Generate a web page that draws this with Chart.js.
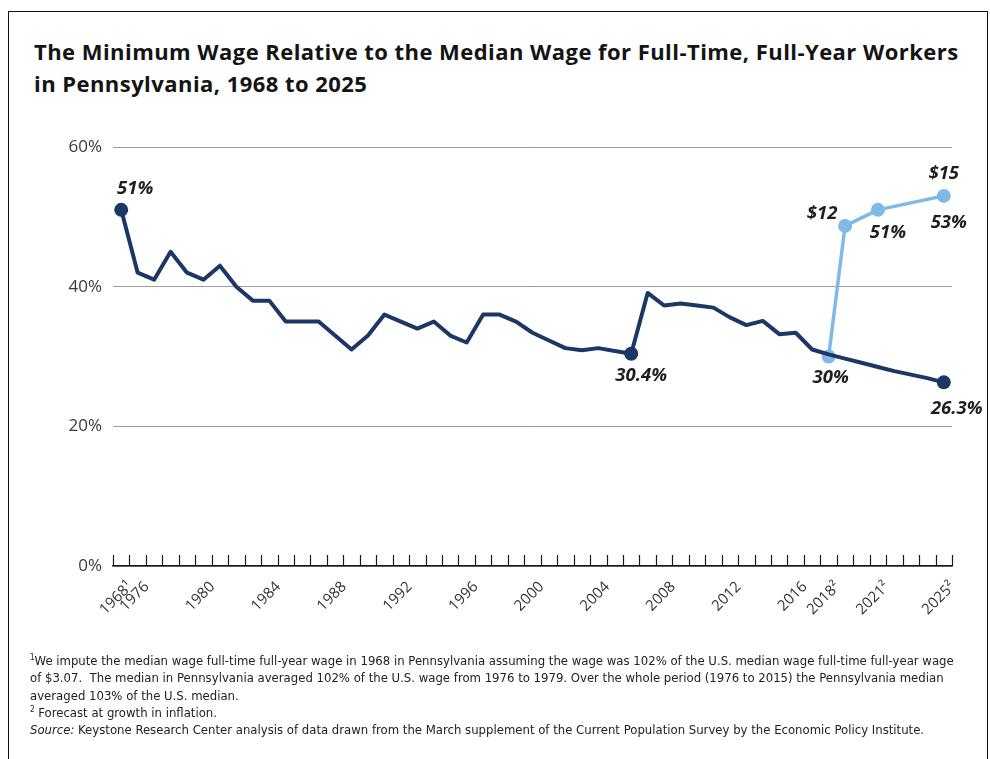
<!DOCTYPE html>
<html>
<head>
<meta charset="utf-8">
<script src="https://cdn.jsdelivr.net/npm/chart.js@4.4.1/dist/chart.umd.min.js"></script>
<style>
  html, body { margin: 0; padding: 0; background: #fff; }
  body { width: 990px; height: 759px; position: relative; overflow: hidden; font-family: "Open Sans", sans-serif; }
  #frame { position: absolute; left: 8px; top: 11px; width: 980px; height: 760px; border: 1.5px solid #111; border-bottom: none; box-sizing: border-box; }
  #title { position: absolute; left: 34px; top: 35px; font-weight: 700; font-size: 22px; letter-spacing: 0.45px; line-height: 32px; color: #141414; white-space: nowrap; }
  #chartWrap { position: absolute; left: 0; top: 0; width: 990px; height: 759px; }
  #notes { position: absolute; left: 30px; top: 652px; font-family: "Liberation Sans Narrow", "Arial Narrow", "DejaVu Sans Condensed", sans-serif; font-size: 13px; line-height: 17.3px; color: #222; white-space: nowrap; }
  #notes sup { font-size: 8px; vertical-align: 5px; line-height: 0; }
</style>
</head>
<body>
<div id="frame"></div>
<div id="title">The Minimum Wage Relative to the Median Wage for Full-Time, Full-Year Workers<br>in Pennsylvania, 1968 to 2025</div>
<div id="chartWrap"><canvas id="chart" width="990" height="759"></canvas></div>
<div id="notes">
  <div><sup>1</sup>We impute the median wage full-time full-year wage in 1968 in Pennsylvania assuming the wage was 102% of the U.S. median wage full-time full-year wage</div>
  <div>of $3.07.&nbsp; The median in Pennsylvania averaged 102% of the U.S. wage from 1976 to 1979. Over the whole period (1976 to 2015) the Pennsylvania median</div>
  <div>averaged 103% of the U.S. median.</div>
  <div><sup>2</sup> Forecast at growth in inflation.</div>
  <div><i>Source:</i> Keystone Research Center analysis of data drawn from the March supplement of the Current Population Survey by the Economic Policy Institute.</div>
</div>
<script>
// Years on the horizontal axis (1968, then every year 1976-2025)
const years = ['1968','1976','1977','1978','1979','1980','1981','1982','1983','1984','1985','1986','1987',
  '1988','1989','1990','1991','1992','1993','1994','1995','1996','1997','1998','1999','2000','2001','2002',
  '2003','2004','2005','2006','2007','2008','2009','2010','2011','2012','2013','2014','2015','2016','2017',
  '2018','2019','2020','2021','2022','2023','2024','2025'];

// Minimum wage as % of the median full-time, full-year wage (current law, forecast after 2017)
const currentLawShare = [51,42,41,45,42,41,43,40,38,38,35,35,35,33,31,33,36,35,34,35,33,32,36,36,35,
  33.4,32.3,31.2,30.9,31.2,30.8,30.4,39.1,37.3,37.6,37.3,37.0,35.6,34.5,35.1,33.2,33.4,31.0,
  30.3,29.7,29.1,28.5,27.9,27.4,26.9,26.3];

// Proposed path to a $15 minimum wage
const proposedShare = [null,null,null,null,null,null,null,null,null,null,null,null,null,null,null,null,
  null,null,null,null,null,null,null,null,null,null,null,null,null,null,null,null,null,null,null,null,
  null,null,null,null,null,null,null,30,48.7,null,51,null,null,null,53];

// Years whose values are called out on the chart
const currentLawCallouts = ['1968','2006','2025'];
const proposedCallouts = ['2018','2021','2025'];
const wageCalloutYears = ['2019','2025'];
const wageCalloutText = ['$12','$15'];

// Years shown as axis labels and footnote markers
const shownYears = ['1968','1976','1980','1984','1988','1992','1996','2000','2004','2008','2012','2016','2018','2021','2025'];
const yearNotes = { '1968': '\u00b9', '2018': '\u00b2', '2021': '\u00b2', '2025': '\u00b2' };

const yTicks = [0, 20, 40, 60];

const NAVY = '#1c3765';
const SKY = '#80b9e6';

// label placement relative to each point (px)
const calloutOffsets = {
  'cur-1968': [14, -21], 'cur-2006': [10, 22], 'cur-2025': [13, 26],
  'pro-2018': [2, 21], 'pro-2021': [10, 23], 'pro-2025': [5, 27],
  'wage-2019': [-23, -12], 'wage-2025': [0, -22]
};

const upwardTicks = {
  id: 'upwardTicks',
  beforeDatasetsDraw(chart) {
    const xs = chart.scales.x, ctx = chart.ctx;
    const step = xs.getPixelForValue(1) - xs.getPixelForValue(0);
    const start = xs.getPixelForValue(0) - step / 2;
    ctx.save();
    ctx.strokeStyle = '#1a1a1a';
    ctx.lineWidth = 1.2;
    for (let i = 0; i <= years.length; i++) {
      const x = Math.round(start + i * step) + 0.5;
      ctx.beginPath();
      ctx.moveTo(x, xs.top);
      ctx.lineTo(x, xs.top - 11);
      ctx.stroke();
    }
    ctx.restore();
  }
};

const pctText = v => (Math.round(v * 10) / 10) + '%';

const callouts = {
  id: 'callouts',
  afterDatasetsDraw(chart) {
    const ctx = chart.ctx;
    ctx.save();
    ctx.font = 'italic 700 18.5px "Open Sans", sans-serif';
    ctx.fillStyle = '#1e1e1e';
    ctx.textAlign = 'center';
    ctx.textBaseline = 'middle';
    const put = (dsIndex, year, text, key) => {
      const i = years.indexOf(year);
      const el = chart.getDatasetMeta(dsIndex).data[i];
      const off = calloutOffsets[key];
      ctx.fillText(text, el.x + off[0], el.y + off[1]);
    };
    currentLawCallouts.forEach(y => put(0, y, pctText(currentLawShare[years.indexOf(y)]), 'cur-' + y));
    proposedCallouts.forEach(y => put(1, y, pctText(proposedShare[years.indexOf(y)]), 'pro-' + y));
    wageCalloutYears.forEach((y, k) => put(1, y, wageCalloutText[k], 'wage-' + y));
    ctx.restore();
  }
};

new Chart(document.getElementById('chart'), {
  type: 'line',
  data: {
    labels: years,
    datasets: [
      {
        label: 'Current law',
        data: currentLawShare,
        borderColor: NAVY,
        backgroundColor: NAVY,
        borderWidth: 4,
        borderJoinStyle: 'round',
        borderCapStyle: 'round',
        tension: 0,
        pointRadius: ctx => currentLawCallouts.includes(years[ctx.dataIndex]) ? 7 : 0,
        pointBorderWidth: 0,
        pointHoverRadius: 0
      },
      {
        label: 'Proposed',
        data: proposedShare,
        spanGaps: true,
        borderColor: SKY,
        backgroundColor: SKY,
        borderWidth: 3.5,
        borderJoinStyle: 'round',
        tension: 0,
        pointRadius: 7,
        pointBorderWidth: 0,
        pointHoverRadius: 0
      }
    ]
  },
  options: {
    responsive: false,
    animation: false,
    events: [],
    layout: { padding: { top: 147, left: 0, right: 38, bottom: 133 } },
    plugins: { legend: { display: false }, tooltip: { enabled: false }, title: { display: false } },
    scales: {
      x: {
        type: 'category',
        offset: true,
        grid: { display: false },
        border: { display: true, color: '#1a1a1a', width: 1.5 },
        afterFit: s => { s.height = 60; },
        ticks: {
          autoSkip: false,
          minRotation: 45,
          maxRotation: 45,
          padding: 4,
          labelOffset: 9,
          color: '#333',
          font: { family: '"Open Sans", sans-serif', size: 15 },
          callback: function (value) {
            const y = this.getLabelForValue(value);
            return shownYears.includes(y) ? y + (yearNotes[y] || '') : '';
          }
        }
      },
      y: {
        min: 0,
        max: 60,
        afterFit: s => { s.width = 113; },
        afterBuildTicks: s => { s.ticks = yTicks.map(v => ({ value: v })); },
        grid: { color: '#9c9c9c', lineWidth: 1, drawTicks: false },
        border: { display: false },
        ticks: {
          padding: 11,
          color: '#3a3a3a',
          font: { family: '"Open Sans", sans-serif', size: 17 },
          callback: v => v + '%'
        }
      }
    }
  },
  plugins: [upwardTicks, callouts]
});
</script>
</body>
</html>
